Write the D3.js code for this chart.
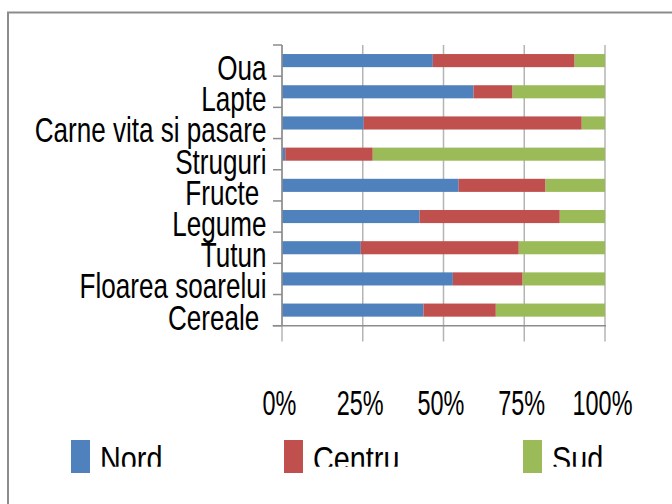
<!DOCTYPE html>
<html><head><meta charset="utf-8">
<script src="https://cdn.jsdelivr.net/npm/d3@7"></script>
<style>body{margin:0;background:#fff}svg{display:block}</style>
</head><body>
<svg id="c" width="672" height="504"></svg>
<script>
const categories = ["Oua","Lapte","Carne vita si pasare","Struguri","Fructe ","Legume","Tutun","Floarea soarelui","Cereale "];
const nord   = [46.7, 59.3, 25.3,  1.0, 54.7, 42.6, 24.4, 52.9, 43.8];
const centru = [43.9, 12.1, 67.5, 27.1, 26.9, 43.4, 48.9, 21.6, 22.4];
const sud    = [ 9.4, 28.6,  7.2, 71.9, 18.4, 14.0, 26.7, 25.5, 33.8];
const seriesNames = ["Nord","Centru","Sud"];
const colors = ["#4f81bd","#c0504d","#9bbb59"];
const tickValues = [0,25,50,75,100];
const tickLabels = ["0%","25%","50%","75%","100%"];

const svg = d3.select("#c");
const font = "'Liberation Sans', Arial, sans-serif";

svg.append("defs").append("clipPath").attr("id","lc")
  .append("rect").attr("x",0).attr("y",0).attr("width",672).attr("height",466.7);

// frame
svg.append("path").attr("d","M8,505 L8,12.5 L673,12.5")
  .attr("fill","none").attr("stroke","#8c8c8c").attr("stroke-width",2);

const x = d3.scaleLinear().domain([0,100]).range([282,605]);
const y = d3.scaleBand().domain(categories).range([45,325.7]).paddingInner(0.58).paddingOuter(0.29);

// gridlines (extend below axis as tick marks)
svg.append("g").selectAll("line").data(tickValues).join("line")
  .attr("x1",d=>x(d)).attr("x2",d=>x(d)).attr("y1",45).attr("y2",341.5)
  .attr("stroke","#b4b4b4").attr("stroke-width",1.5);

// stacked bars
const rows = categories.map((c,i)=>({cat:c, Nord:nord[i], Centru:centru[i], Sud:sud[i]}));
const stack = d3.stack().keys(seriesNames)(rows);
svg.append("g").selectAll("g").data(stack).join("g")
  .attr("fill",(d,i)=>colors[i])
  .selectAll("rect").data(d=>d).join("rect")
  .attr("x",d=>x(d[0])).attr("width",d=>x(d[1])-x(d[0]))
  .attr("y",d=>y(d.data.cat)).attr("height",y.bandwidth());

// category axis line + ticks at band boundaries
const bounds = d3.range(categories.length+1).map(i=>y.range()[0]+i*y.step()/(1)*(1) - (i===0?0:0));
const bandEdges = d3.range(categories.length+1).map(i=>45+i*((325.7-45)/categories.length));
svg.append("line").attr("x1",282).attr("x2",282).attr("y1",45).attr("y2",325.7)
  .attr("stroke","#8c8c8c").attr("stroke-width",1.5);
svg.append("g").selectAll("line").data(bandEdges).join("line")
  .attr("x1",273).attr("x2",282).attr("y1",d=>d).attr("y2",d=>d)
  .attr("stroke","#8c8c8c").attr("stroke-width",1.5);
// value axis line
svg.append("line").attr("x1",272.7).attr("x2",606).attr("y1",325.7).attr("y2",325.7)
  .attr("stroke","#8c8c8c").attr("stroke-width",1.5);

// category labels
svg.append("g").selectAll("text").data(categories).join("text")
  .attr("transform",d=>`translate(266.5,${y(d)+y.bandwidth()/2+19.5}) scale(0.745,1)`)
  .attr("text-anchor","end").style("white-space","pre")
  .attr("font-family",font).attr("font-size",35).attr("fill","#000")
  .text(d=>d);

// tick labels
svg.append("g").selectAll("text").data(tickValues).join("text")
  .attr("transform",d=>`translate(${x(d)-2.5},415) scale(0.67,1)`)
  .attr("text-anchor","middle").attr("font-family",font).attr("font-size",35).attr("fill","#000")
  .text((d,i)=>tickLabels[i]);

// legend (text clipped at the bottom like the reference)
const legX = [71, 284, 523];
const lg = svg.append("g").selectAll("g").data(seriesNames).join("g");
lg.append("rect").attr("x",(d,i)=>legX[i]).attr("y",440).attr("width",19).attr("height",33)
  .attr("fill",(d,i)=>colors[i]);
lg.append("g").attr("clip-path","url(#lc)")
  .append("text")
  .attr("transform",(d,i)=>`translate(${legX[i]+29},471) scale(0.8,1)`)
  .attr("font-family",font).attr("font-size",36).attr("fill","#000")
  .text(d=>d);
</script>
</body></html>
